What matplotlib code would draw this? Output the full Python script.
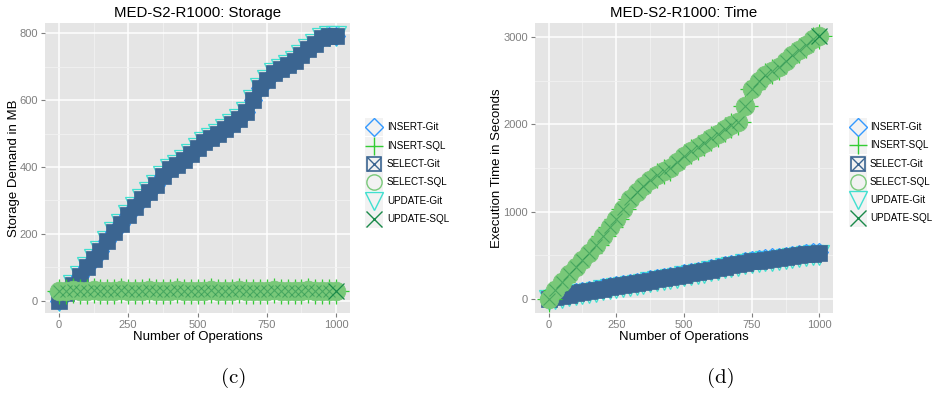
import matplotlib
matplotlib.use("Agg")
import matplotlib.pyplot as plt
from matplotlib.lines import Line2D
from matplotlib.patches import Rectangle

plt.rcParams["font.family"] = ["Liberation Sans", "DejaVu Sans"]

# ---- data -------------------------------------------------------------
ops = [0, 25, 50, 75, 100, 125, 150, 175, 200, 225, 250, 275, 300, 325, 350,
       375, 400, 425, 450, 475, 500, 525, 550, 575, 600, 625, 650, 675, 700,
       725, 750, 775, 800, 825, 850, 875, 900, 925, 950, 975, 1000]

# storage demand (MB)
storage_git = [0, 22, 48, 75, 100, 125, 150, 178, 205, 230, 255, 280, 305,
               325, 345, 372, 395, 405, 420, 440, 458, 475, 488, 500, 515,
               530, 545, 565, 600, 635, 660, 680, 692, 705, 718, 735, 752,
               768, 785, 792, 792]
storage_sql = [30, 30, 31, 30, 30, 31, 30, 30, 30, 31, 30, 30, 30, 31, 30,
               30, 30, 31, 30, 30, 30, 30, 31, 30, 30, 30, 31, 30, 30, 30,
               30, 31, 30, 30, 30, 30, 31, 30, 30, 30, 30]

# execution time (s)
time_insert_git = [15, 35, 50, 65, 80, 93, 105, 120, 135, 147, 160, 173, 185,
                   197, 210, 225, 240, 253, 265, 280, 293, 307, 320, 335, 350,
                   367, 385, 400, 415, 430, 445, 455, 465, 475, 485, 495, 505,
                   515, 525, 533, 540]
time_select_git = [5, 20, 35, 50, 65, 78, 90, 105, 120, 132, 145, 158, 170,
                   182, 195, 210, 225, 238, 250, 265, 278, 292, 305, 320, 335,
                   352, 370, 385, 400, 415, 430, 440, 450, 460, 470, 480, 490,
                   500, 510, 518, 525]
time_update_git = [-10, 2, 15, 30, 45, 58, 70, 85, 100, 112, 125, 138, 150,
                   162, 175, 190, 205, 218, 230, 245, 258, 272, 285, 300, 315,
                   332, 350, 365, 380, 395, 410, 420, 430, 440, 450, 460, 470,
                   480, 490, 498, 505]
time_sql = [0, 100, 200, 290, 370, 450, 530, 620, 720, 820, 920, 1030, 1140,
            1220, 1290, 1360, 1420, 1460, 1500, 1570, 1640, 1690, 1740, 1790,
            1840, 1890, 1940, 1990, 2030, 2210, 2400, 2490, 2560, 2610, 2660,
            2720, 2790, 2850, 2910, 2970, 3010]

series_names = ["INSERT-Git", "INSERT-SQL", "SELECT-Git",
                "SELECT-SQL", "UPDATE-Git", "UPDATE-SQL"]
x_ticks = [0, 250, 500, 750, 1000]
storage_ticks = [0, 200, 400, 600, 800]
time_ticks = [0, 1000, 2000, 3000]

# ---- styles -----------------------------------------------------------
C_INS_GIT = "#3399FF"
C_INS_SQL = "#33CC33"
C_SEL_GIT = "#3B6591"
C_SEL_SQL = "#79C879"
C_UPD_GIT = "#40E0D0"
C_UPD_SQL = "#1A8A4A"

plot_styles = {
    "INSERT-Git": dict(marker="D", ms=9, mfc="none", mec=C_INS_GIT, mew=0.9),
    "INSERT-SQL": dict(marker="+", ms=18, mec=C_INS_SQL, mew=0.9),
    "SELECT-Git": dict(marker="s", ms=11.5, mfc=C_SEL_GIT, mec=C_SEL_GIT, mew=0.5),
    "SELECT-SQL": dict(marker="o", ms=13.5, mfc=C_SEL_SQL, mec=C_SEL_SQL, mew=0.5),
    "UPDATE-Git": dict(marker="v", ms=14.5, mfc="none", mec=C_UPD_GIT, mew=0.9),
    "UPDATE-SQL": dict(marker="x", ms=9, mec=C_UPD_SQL, mew=0.8, alpha=0.5),
}
# layering of the dense point clouds: outline markers sit beneath the
# filled ones so that only their tips show at the band edges
draw_order = ["UPDATE-Git", "INSERT-Git", "SELECT-Git",
              "INSERT-SQL", "SELECT-SQL", "UPDATE-SQL"]

W, H = 936, 396
fig = plt.figure(figsize=(W / 100, H / 100), dpi=100)


def px_axes(x0, y0, x1, y1):
    return fig.add_axes([x0 / W, 1 - y1 / H, (x1 - x0) / W, (y1 - y0) / H])


def style_axes(ax, yticks, yminor, ylim, title, ylabel):
    ax.set_facecolor("#E5E5E5")
    for s in ax.spines.values():
        s.set_visible(False)
    ax.set_xlim(-50, 1050)
    ax.set_ylim(*ylim)
    ax.set_xticks(x_ticks)
    ax.set_xticks([125, 375, 625, 875], minor=True)
    ax.set_yticks(yticks)
    ax.set_yticks(yminor, minor=True)
    ax.grid(True, which="major", color="white", lw=1.1, zorder=0)
    ax.grid(True, which="minor", color="#F2F2F2", lw=0.6, zorder=0)
    ax.set_axisbelow(True)
    ax.tick_params(which="major", length=3, width=0.8, color="#7F7F7F",
                   labelcolor="#7F7F7F", labelsize=8, pad=2)
    ax.tick_params(which="minor", length=0)
    ax.set_title(title, fontsize=10.8, pad=4)
    ax.set_xlabel("Number of Operations", fontsize=9.5, labelpad=1)
    ax.set_ylabel(ylabel, fontsize=9.5, labelpad=0)


def draw_series(ax, ydata):
    for name in draw_order:
        ys = ydata[name]
        if name == "UPDATE-SQL":
            # the final operation's marker ends the cloud at full strength
            ax.plot(ops[:-1], ys[:-1], ls="none", zorder=4, **plot_styles[name])
            last = dict(plot_styles[name], ms=12, mew=0.9, alpha=1.0)
            ax.plot(ops[-1:], ys[-1:], ls="none", zorder=5, **last)
        else:
            ax.plot(ops, ys, ls="none", zorder=3, **plot_styles[name])


def draw_legend(xkey, xtext, rows):
    key_marks = [
        [dict(marker="D", ms=9.5, mfc="none", mec=C_INS_GIT, mew=1.0)],
        [dict(marker="+", ms=13.5, mec=C_INS_SQL, mew=1.0)],
        [dict(marker="s", ms=10.5, mfc="none", mec=C_SEL_GIT, mew=1.2),
         dict(marker="x", ms=10, mec=C_SEL_GIT, mew=1.0)],
        [dict(marker="o", ms=11, mfc="none", mec=C_SEL_SQL, mew=1.0)],
        [dict(marker="v", ms=13.5, mfc="none", mec=C_UPD_GIT, mew=1.0)],
        [dict(marker="x", ms=12, mec=C_UPD_SQL, mew=1.0)],
    ]
    for name, yrow, marks in zip(series_names, rows, key_marks):
        fig.add_artist(Rectangle(((xkey - 9) / W, 1 - (yrow + 9) / H), 18 / W, 18 / H,
                                 transform=fig.transFigure, facecolor="#F2F2F2",
                                 edgecolor="none"))
        for m in marks:
            fig.add_artist(Line2D([xkey / W], [1 - yrow / H], ls="none",
                                  transform=fig.transFigure, **m))
        fig.text(xtext / W, 1 - yrow / H, name, fontsize=7.1, va="center", ha="left")


# ---- storage panel ----------------------------------------------------
ax1 = px_axes(45, 23, 350, 313)
style_axes(ax1, storage_ticks, [100, 300, 500, 700], (-37, 831),
           "MED-S2-R1000: Storage", "Storage Demand in MB")
draw_series(ax1, {
    "INSERT-Git": storage_git, "INSERT-SQL": storage_sql,
    "SELECT-Git": storage_git, "SELECT-SQL": storage_sql,
    "UPDATE-Git": storage_git, "UPDATE-SQL": storage_sql,
})
draw_legend(374, 387, [127, 146, 164, 182, 201, 219])

# ---- time panel -------------------------------------------------------
ax2 = px_axes(535, 23, 833, 313)
style_axes(ax2, time_ticks, [500, 1500, 2500], (-160, 3158),
           "MED-S2-R1000: Time", "Execution Time in Seconds")
draw_series(ax2, {
    "INSERT-Git": time_insert_git, "INSERT-SQL": time_sql,
    "SELECT-Git": time_select_git, "SELECT-SQL": time_sql,
    "UPDATE-Git": time_update_git, "UPDATE-SQL": time_sql,
})
draw_legend(858, 870, [127, 145, 164, 182, 200, 218])

# ---- sub-figure captions ----------------------------------------------
fig.text(234 / W, 1 - 378 / H, "(c)", fontsize=15, fontname="cmr10",
         ha="center", va="center")
fig.text(721 / W, 1 - 378 / H, "(d)", fontsize=15, fontname="cmr10",
         ha="center", va="center")

fig.savefig("out.png", dpi=100, facecolor="white")
